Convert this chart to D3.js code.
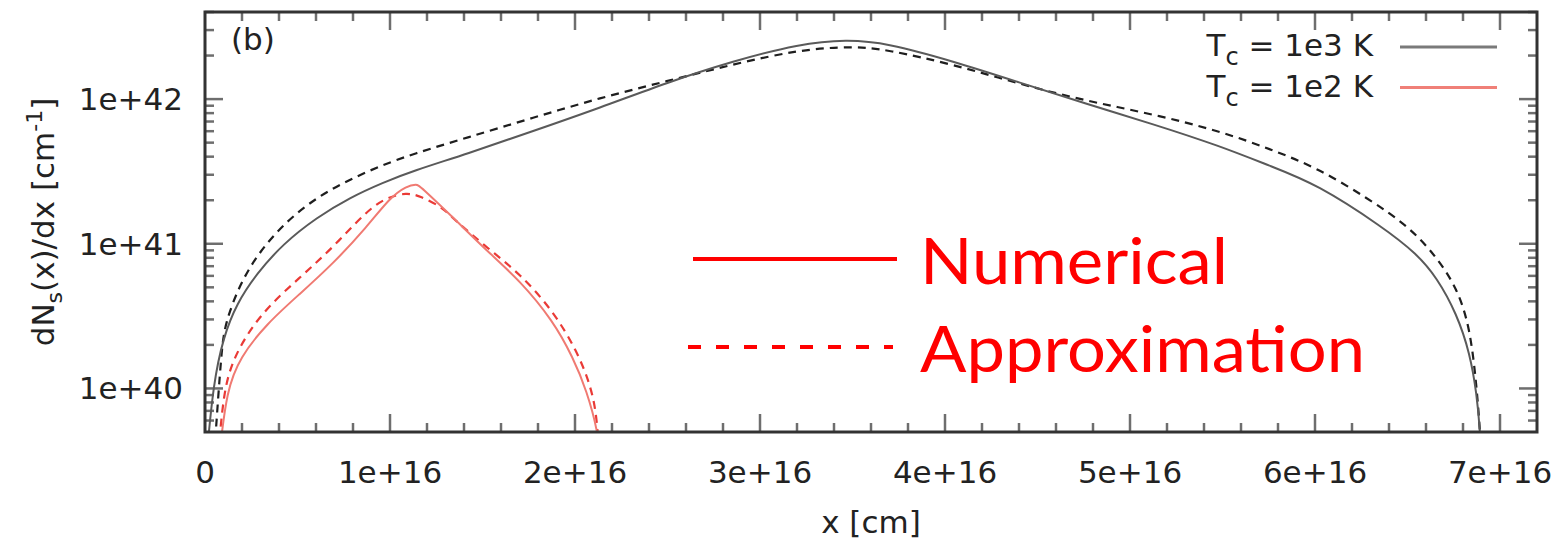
<!DOCTYPE html>
<html>
<head>
<meta charset="utf-8">
<script src="https://cdn.jsdelivr.net/npm/d3@7"></script>
<style>
  body { margin: 0; background: #fff; }
  text { font-family: "DejaVu Sans", sans-serif; fill: #222; }
</style>
</head>
<body>
<svg id="viz" width="1557" height="548"></svg>
<script>
// x values are in units of 1e16 cm, y values are dN_s/dx in cm^-1
var X_UNIT = 1e16;

var numerical1e3 = [[0.01, 3.5e39], [0.045, 1.08e40], [0.099, 2.26e40], [0.171, 3.86e40], [0.279, 6.21e40],
  [0.422, 1.0e41], [0.604, 1.52e41], [0.784, 2.09e41], [0.962, 2.65e41], [1.124, 3.19e41], [1.415, 4.18e41],
  [1.773, 6.01e41], [2.135, 8.71e41], [2.496, 1.30e42], [2.854, 1.83e42], [3.214, 2.41e42], [3.469, 2.58e42],
  [3.685, 2.44e42], [4.043, 1.83e42], [4.405, 1.30e42], [4.766, 9.24e41], [5.124, 6.73e41], [5.486, 4.74e41],
  [5.757, 3.45e41], [6.009, 2.59e41], [6.368, 1.30e41], [6.55, 8.53e40], [6.658, 5.86e40], [6.766, 3.29e40],
  [6.838, 1.74e40], [6.874, 9.2e39], [6.892, 5.1e39], [6.897, 3.5e39]];

var approx1e3 = [[0.05, 3.5e39], [0.07, 8.27e39], [0.09, 1.83e40], [0.108, 2.81e40], [0.189, 5.30e40],
  [0.297, 8.95e40], [0.442, 1.44e41], [0.604, 2.09e41], [0.766, 2.72e41], [0.946, 3.45e41], [1.124, 4.18e41],
  [1.415, 5.41e41], [1.773, 7.43e41], [2.135, 1.02e42], [2.496, 1.33e42], [2.854, 1.74e42], [3.214, 2.20e42],
  [3.503, 2.32e42], [3.685, 2.20e42], [4.043, 1.74e42], [4.405, 1.27e42], [4.766, 9.69e41], [5.124, 7.88e41],
  [5.486, 6.01e41], [5.757, 4.52e41], [6.009, 3.36e41], [6.279, 2.09e41], [6.514, 1.30e41], [6.658, 8.05e40],
  [6.766, 5.0e40], [6.838, 2.65e40], [6.874, 1.02e40], [6.892, 5.1e39], [6.897, 3.5e39]];

var numerical1e2 = [[0.078, 3.5e39], [0.117, 9.7e39], [0.189, 1.64e40], [0.334, 2.81e40], [0.514, 4.52e40],
  [0.692, 7.28e40], [0.874, 1.30e41], [1.0, 2.09e41], [1.09, 2.51e41], [1.144, 2.58e41], [1.162, 2.51e41],
  [1.341, 1.52e41], [1.523, 8.95e40], [1.703, 5.56e40], [1.881, 2.94e40], [1.989, 1.64e40], [2.063, 9.7e39],
  [2.126, 4.9e39], [2.13, 3.5e39]];

var approx1e2 = [[0.072, 3.5e39], [0.099, 9.2e39], [0.151, 1.64e40], [0.297, 3.29e40], [0.514, 5.86e40],
  [0.692, 9.43e40], [0.874, 1.69e41], [0.982, 2.09e41], [1.09, 2.26e41], [1.162, 2.14e41], [1.286, 1.78e41],
  [1.341, 1.49e41], [1.523, 9.43e40], [1.703, 6.21e40], [1.881, 3.45e40], [2.009, 1.83e40], [2.081, 1.08e40],
  [2.117, 6.7e39], [2.13, 3.5e39]];

var xDomain = [0, 7.2e16];
var yDomain = [5e39, 4e42];
var xMajorTicks = [0, 1e16, 2e16, 3e16, 4e16, 5e16, 6e16, 7e16];
var yMajorTicks = [1e40, 1e41, 1e42];
var legendLabels = ["1e3 K", "1e2 K"];
var noteLabels = ["Numerical", "Approximation"];

var margin = { top: 12, right: 20, bottom: 116, left: 205 };
var width = 1557 - margin.left - margin.right;
var height = 548 - margin.top - margin.bottom;

var svg = d3.select("#viz");
var g = svg.append("g").attr("transform", "translate(" + margin.left + "," + margin.top + ")");

var x = d3.scaleLinear().domain(xDomain).range([0, width]);
var y = d3.scaleLog().domain(yDomain).range([height, 0]);

// minor ticks
var xMinor = d3.range(0, 36).map(function (i) { return i * 2e15; }).filter(function (v) { return v <= xDomain[1] && v % 1e16 !== 0; });
var yMinor = [];
[39, 40, 41, 42].forEach(function (e) {
  for (var k = 2; k <= 9; k++) {
    var v = k * Math.pow(10, e);
    if (v >= yDomain[0] && v <= yDomain[1]) yMinor.push(v);
  }
});

var ticks = g.append("g").attr("stroke", "#6e6e6e").attr("stroke-width", 2.5);
function vTicks(vals, len) {
  vals.forEach(function (v) {
    ticks.append("line").attr("x1", x(v)).attr("x2", x(v)).attr("y1", height).attr("y2", height - len);
    ticks.append("line").attr("x1", x(v)).attr("x2", x(v)).attr("y1", 0).attr("y2", len);
  });
}
function hTicks(vals, len) {
  vals.forEach(function (v) {
    ticks.append("line").attr("x1", 0).attr("x2", len).attr("y1", y(v)).attr("y2", y(v));
    ticks.append("line").attr("x1", width).attr("x2", width - len).attr("y1", y(v)).attr("y2", y(v));
  });
}
vTicks(xMajorTicks.filter(function (v) { return v > 0; }), 18);
vTicks(xMinor, 9);
hTicks(yMajorTicks, 18);
hTicks(yMinor, 9);

// tick labels
g.selectAll(".xl").data(xMajorTicks).enter().append("text")
  .attr("x", function (d) { return x(d); })
  .attr("y", height + 51)
  .attr("text-anchor", "middle")
  .style("font-size", "31px")
  .text(function (d) { return d === 0 ? "0" : (d / X_UNIT) + "e+16"; });

g.selectAll(".yl").data(yMajorTicks).enter().append("text")
  .attr("x", -22)
  .attr("y", function (d) { return y(d) + 11; })
  .attr("text-anchor", "end")
  .style("font-size", "31px")
  .text(function (d) { return "1e+" + Math.round(Math.log10(d)); });

// curves
svg.append("defs").append("clipPath").attr("id", "plotclip")
  .append("rect").attr("width", width).attr("height", height);

var line = d3.line()
  .x(function (d) { return x(d[0] * X_UNIT); })
  .y(function (d) { return y(d[1]); })
  .curve(d3.curveBasis);

var curves = g.append("g").attr("clip-path", "url(#plotclip)").attr("fill", "none");
var series = [
  { data: approx1e3, color: "#1e1e1e", width: 2.2, dash: "8,6" },
  { data: numerical1e3, color: "#5a5a5a", width: 2, dash: null },
  { data: approx1e2, color: "#ea3a36", width: 2.2, dash: "8,6" },
  { data: numerical1e2, color: "#f07a72", width: 2, dash: null }
];
series.forEach(function (s) {
  curves.append("path").datum(s.data)
    .attr("d", line)
    .attr("stroke", s.color)
    .attr("stroke-width", s.width)
    .attr("stroke-dasharray", s.dash);
});

// frame
g.append("rect").attr("width", width).attr("height", height)
  .attr("fill", "none").attr("stroke", "#333").attr("stroke-width", 3);

// panel tag
g.append("text").attr("x", 26).attr("y", 38).style("font-size", "31px").text("(b)");

// legend
var legendColors = ["#7a7a7a", "#f08078"];
legendLabels.forEach(function (lab, i) {
  var ly = 35 + i * 40.5;
  var t = g.append("text").attr("x", 1168).attr("y", ly + 9).attr("text-anchor", "end").style("font-size", "31px");
  t.append("tspan").text("T");
  t.append("tspan").attr("dy", 9).style("font-size", "24px").text("c");
  t.append("tspan").attr("dy", -9).text(" = " + lab);
  g.append("line").attr("x1", 1195).attr("x2", 1292).attr("y1", ly).attr("y2", ly)
    .attr("stroke", legendColors[i]).attr("stroke-width", 3);
});

// axis titles
svg.append("text").attr("x", margin.left + width / 2).attr("y", 533)
  .attr("text-anchor", "middle").style("font-size", "31px").text("x [cm]");

var yt = svg.append("text")
  .attr("transform", "translate(54," + (margin.top + height / 2) + ") rotate(-90)")
  .attr("text-anchor", "middle").style("font-size", "31px");
yt.append("tspan").text("dN");
yt.append("tspan").attr("dy", 8).style("font-size", "22px").text("s");
yt.append("tspan").attr("dy", -8).text("(x)/dx [cm");
yt.append("tspan").attr("dy", -12).style("font-size", "22px").text("-1");
yt.append("tspan").attr("dy", 12).text("]");

// red annotation key
var note = svg.append("g");
note.append("line").attr("x1", 693).attr("x2", 897).attr("y1", 259).attr("y2", 259)
  .attr("stroke", "#ff0000").attr("stroke-width", 4);
note.append("line").attr("x1", 688).attr("x2", 893).attr("y1", 347).attr("y2", 347)
  .attr("stroke", "#ff0000").attr("stroke-width", 4).attr("stroke-dasharray", "13,15");
note.append("text").attr("x", 920).attr("y", 284)
  .attr("textLength", 308).attr("lengthAdjust", "spacingAndGlyphs")
  .style("font-family", "Lato, sans-serif").style("font-size", "64px").style("fill", "#ff0000")
  .text(noteLabels[0]);
note.append("text").attr("x", 920).attr("y", 372)
  .attr("textLength", 445).attr("lengthAdjust", "spacingAndGlyphs")
  .style("font-family", "Lato, sans-serif").style("font-size", "64px").style("fill", "#ff0000")
  .text(noteLabels[1]);
</script>
</body>
</html>
